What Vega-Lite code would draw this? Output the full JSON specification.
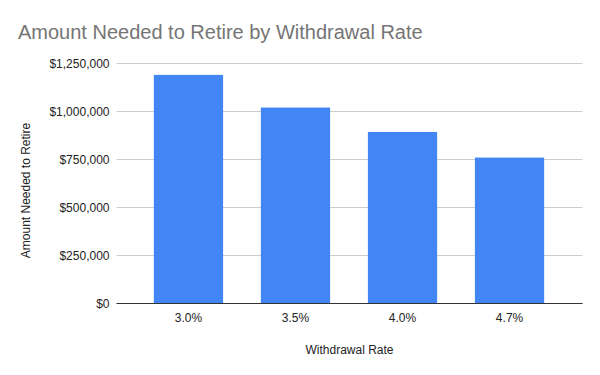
{
  "$schema": "https://vega.github.io/schema/vega-lite/v6.json",
  "autosize": {"type": "none"},
  "width": 466,
  "height": 240,
  "padding": {"left": 116, "top": 63, "right": 18, "bottom": 72},
  "background": "white",
  "title": {
    "text": "Amount Needed to Retire by Withdrawal Rate",
    "anchor": "start",
    "frame": "group",
    "dx": -98,
    "dy": 26,
    "offset": 24,
    "baseline": "alphabetic",
    "font": "Liberation Sans",
    "fontSize": 20,
    "fontWeight": "normal",
    "color": "#757575"
  },
  "data": {
    "values": [
      {"rate": "3.0%", "amount": 1190000},
      {"rate": "3.5%", "amount": 1020000},
      {"rate": "4.0%", "amount": 892500},
      {"rate": "4.7%", "amount": 759574}
    ]
  },
  "config": {
    "view": {"stroke": null},
    "axis": {"labelFont": "Liberation Sans", "titleFont": "Liberation Sans", "labelColor": "#222222", "titleColor": "#222222", "titleFontWeight": "normal"}
  },
  "mark": {"type": "bar", "color": "#4285F4", "cornerRadiusTopLeft": 1, "cornerRadiusTopRight": 1},
  "encoding": {
    "x": {
      "field": "rate",
      "type": "nominal",
      "sort": null,
      "scale": {"paddingInner": 0.346, "paddingOuter": 0.35},
      "axis": {
        "title": "Withdrawal Rate",
        "labelAngle": 0,
        "labelFontSize": 12,
        "labelPadding": 9,
        "ticks": false,
        "domainColor": "#333333",
        "domainWidth": 1,
        "titleFontSize": 12,
        "titleX": 233,
        "titleY": 50,
        "titleBaseline": "alphabetic",
        "titleAnchor": "middle"
      }
    },
    "y": {
      "field": "amount",
      "type": "quantitative",
      "scale": {"domain": [0, 1250000], "nice": false},
      "axis": {
        "title": "Amount Needed to Retire",
        "values": [0, 250000, 500000, 750000, 1000000, 1250000],
        "format": "$,.0f",
        "labelFontSize": 12,
        "labelPadding": 7,
        "ticks": false,
        "domain": false,
        "gridColor": "#cccccc",
        "titleFontSize": 12,
        "titleAngle": -90,
        "titleX": -91,
        "titleY": 127,
        "titleBaseline": "middle",
        "titleAnchor": "middle"
      }
    }
  }
}
